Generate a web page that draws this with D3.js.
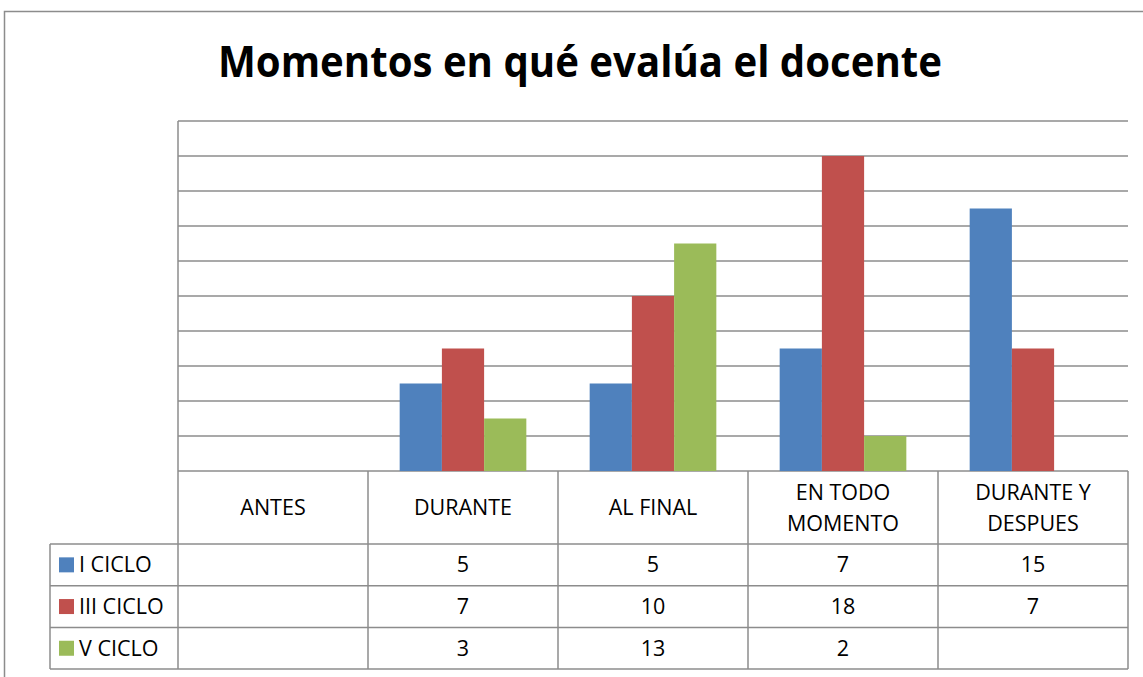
<!DOCTYPE html>
<html>
<head>
<meta charset="utf-8">
<script src="https://cdn.jsdelivr.net/npm/d3@7"></script>
<style>
  body { margin: 0; background: #fff; }
  svg { display: block; font-family: "Open Sans", "Liberation Sans", sans-serif; }
</style>
</head>
<body>
<div id="chart"></div>
<script>
// Grouped bar chart with a data table under the category axis.

const TITLE = "Momentos en qué evalúa el docente";
const categories = ["ANTES", "DURANTE", "AL FINAL", "EN TODO|MOMENTO", "DURANTE Y|DESPUES"];
const seriesNames = ["I CICLO", "III CICLO", "V CICLO"];
const seriesColors = ["#4F81BD", "#C0504D", "#9BBB59"];
const iCiclo = [null, 5, 5, 7, 15];
const iiiCiclo = [null, 7, 10, 18, 7];
const vCiclo = [null, 3, 13, 2, null];
const yTicks = [0, 2, 4, 6, 8, 10, 12, 14, 16, 18, 20];

const WIDTH = 1143;
const HEIGHT = 677;
const PLOT_LEFT = 178;
const PLOT_RIGHT = 1128;
const PLOT_TOP = 121;
const PLOT_BOTTOM = 471;
const HEADER_BOTTOM = 544;
const ROW_HEIGHT = 41.7;
const LEGEND_LEFT = 50;
const GRID = "#8c8c8c";
const FONT_SIZE = 21.5;

const seriesValues = [iCiclo, iiiCiclo, vCiclo];

const svg = d3.select("#chart").append("svg")
    .attr("width", WIDTH)
    .attr("height", HEIGHT);

// outer chart frame
svg.append("rect")
    .attr("x", 4.5).attr("y", 11.5)
    .attr("width", WIDTH + 10).attr("height", HEIGHT + 10)
    .attr("fill", "none")
    .attr("stroke", GRID)
    .attr("stroke-width", 1.5);

svg.append("text")
    .attr("x", 580)
    .attr("y", 77)
    .attr("text-anchor", "middle")
    .attr("font-size", 43)
    .attr("font-weight", "bold")
    .attr("textLength", 724)
    .attr("lengthAdjust", "spacingAndGlyphs")
    .attr("fill", "#000")
    .text(TITLE);

const x = d3.scaleBand()
    .domain(d3.range(categories.length))
    .range([PLOT_LEFT, PLOT_RIGHT]);

const xInner = d3.scaleBand()
    .domain(d3.range(seriesNames.length))
    .range([0, x.bandwidth()])
    .paddingOuter(0.75);

const y = d3.scaleLinear()
    .domain([0, 20])
    .range([PLOT_BOTTOM, PLOT_TOP]);

// gridlines
svg.append("g")
    .selectAll("line")
    .data(yTicks)
    .join("line")
    .attr("x1", PLOT_LEFT)
    .attr("x2", PLOT_RIGHT)
    .attr("y1", d => y(d))
    .attr("y2", d => y(d))
    .attr("stroke", GRID)
    .attr("stroke-width", 1.5);

// bars
const groups = svg.append("g")
    .selectAll("g")
    .data(seriesValues)
    .join("g")
    .attr("fill", (d, i) => seriesColors[i]);

groups.selectAll("rect")
    .data((vals, s) => vals.map((v, c) => ({ v, c, s })).filter(d => d.v != null))
    .join("rect")
    .attr("x", d => x(d.c) + xInner(d.s))
    .attr("width", xInner.bandwidth())
    .attr("y", d => y(d.v))
    .attr("height", d => y(0) - y(d.v));

// vertical axis line
svg.append("line")
    .attr("x1", PLOT_LEFT).attr("x2", PLOT_LEFT)
    .attr("y1", PLOT_TOP).attr("y2", PLOT_BOTTOM)
    .attr("stroke", GRID)
    .attr("stroke-width", 1.5);

// data table
const table = svg.append("g")
    .attr("fill", "none")
    .attr("stroke", GRID)
    .attr("stroke-width", 1.5);

const tableBottom = HEADER_BOTTOM + ROW_HEIGHT * seriesNames.length;

table.selectAll("line.col")
    .data(d3.range(categories.length + 1))
    .join("line")
    .attr("class", "col")
    .attr("x1", d => d < categories.length ? x(d) : PLOT_RIGHT)
    .attr("x2", d => d < categories.length ? x(d) : PLOT_RIGHT)
    .attr("y1", PLOT_BOTTOM)
    .attr("y2", tableBottom);

table.append("line")
    .attr("x1", LEGEND_LEFT).attr("x2", LEGEND_LEFT)
    .attr("y1", HEADER_BOTTOM).attr("y2", tableBottom);

table.selectAll("line.row")
    .data(d3.range(seriesNames.length + 1))
    .join("line")
    .attr("class", "row")
    .attr("x1", LEGEND_LEFT)
    .attr("x2", PLOT_RIGHT)
    .attr("y1", d => HEADER_BOTTOM + d * ROW_HEIGHT)
    .attr("y2", d => HEADER_BOTTOM + d * ROW_HEIGHT);

// header labels
const headers = svg.append("g")
    .selectAll("text")
    .data(categories)
    .join("text")
    .attr("text-anchor", "middle")
    .attr("font-size", FONT_SIZE)
    .attr("fill", "#000");

headers.each(function (d, i) {
    const lines = d.split("|");
    const cx = x(i) + x.bandwidth() / 2;
    const mid = (PLOT_BOTTOM + HEADER_BOTTOM) / 2;
    const lh = 31;
    d3.select(this).selectAll("tspan")
        .data(lines)
        .join("tspan")
        .attr("x", cx)
        .attr("y", (l, j) => mid + (j - (lines.length - 1) / 2) * lh)
        .attr("dy", "0.35em")
        .text(l => l);
});

// rows: legend key + values
const rows = svg.append("g")
    .selectAll("g")
    .data(seriesNames)
    .join("g")
    .attr("transform", (d, i) => `translate(0,${HEADER_BOTTOM + i * ROW_HEIGHT + ROW_HEIGHT / 2})`);

rows.append("rect")
    .attr("x", 59)
    .attr("y", -7.5)
    .attr("width", 15)
    .attr("height", 15)
    .attr("fill", (d, i) => seriesColors[i]);

rows.append("text")
    .attr("x", 79)
    .attr("dy", "0.35em")
    .attr("font-size", FONT_SIZE)
    .attr("fill", "#000")
    .text(d => d);

rows.selectAll("text.val")
    .data((d, i) => seriesValues[i].map((v, c) => ({ v, c })).filter(e => e.v != null))
    .join("text")
    .attr("class", "val")
    .attr("x", d => x(d.c) + x.bandwidth() / 2)
    .attr("dy", "0.35em")
    .attr("text-anchor", "middle")
    .attr("font-size", FONT_SIZE)
    .attr("fill", "#000")
    .text(d => d.v);
</script>
</body>
</html>
